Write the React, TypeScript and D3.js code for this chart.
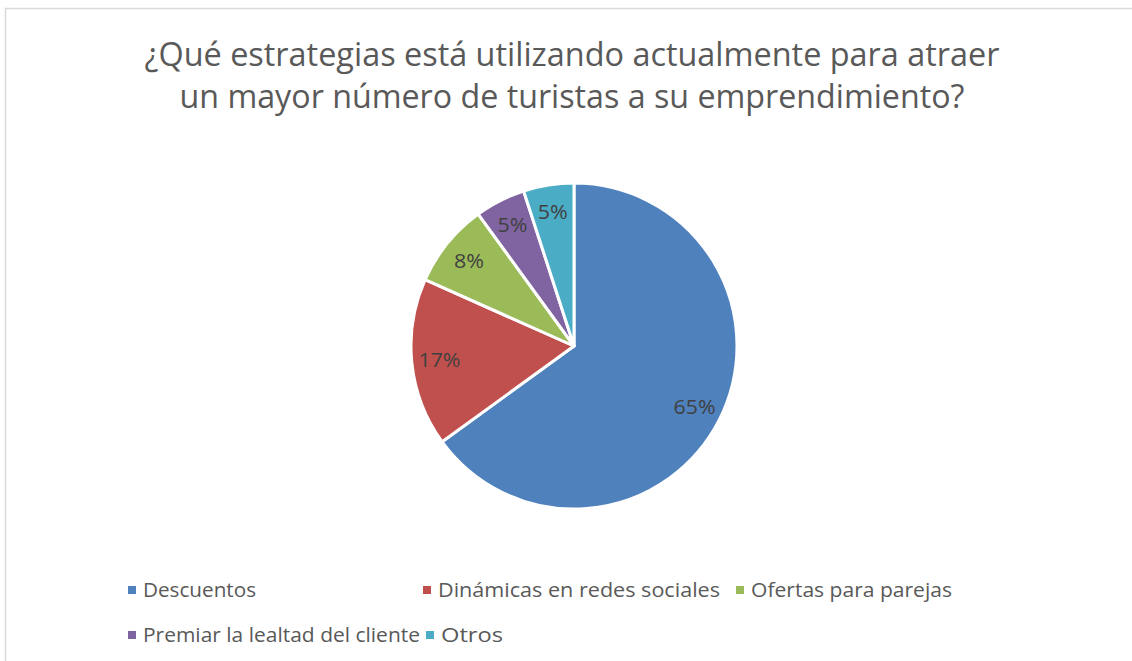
import React from "react";
import * as d3 from "d3";

const categories = [
  "Descuentos",
  "Dinámicas en redes sociales",
  "Ofertas para parejas",
  "Premiar la lealtad del cliente",
  "Otros",
];
const counts = [39, 10, 5, 3, 3];
const colors = ["#4F81BD", "#C0504D", "#9BBB59", "#8064A2", "#4BACC6"];
const titleLines = [
  "¿Qué estrategias está utilizando actualmente para atraer",
  "un mayor número de turistas a su emprendimiento?",
];

const W = 1132;
const H = 661;
const FONT = "'Open Sans', 'Noto Sans', sans-serif";

// legend layout (Excel flow legend, two rows)
const legendPos = [
  { x: 128, y: 590, w: 113 },
  { x: 423, y: 590, w: 282 },
  { x: 736, y: 590, w: 201 },
  { x: 128, y: 635, w: 277 },
  { x: 426, y: 635, w: 62 },
];

export default function App() {
  const cx = 574;
  const cy = 346;
  const r = 163;

  const total = d3.sum(counts);
  const pie = d3
    .pie<number>()
    .sort(null)
    .value((d) => d);
  const arcs = pie(counts);
  const arc = d3.arc<d3.PieArcDatum<number>>().innerRadius(0).outerRadius(r);
  const labelArc = d3
    .arc<d3.PieArcDatum<number>>()
    .innerRadius(r * 0.83)
    .outerRadius(r * 0.83);
  const fmt = (v: number) => `${Math.round((v / total) * 100)}%`;

  return (
    <div style={{ position: "fixed", left: 0, top: 0, background: "#fff" }}>
      <svg width={W} height={H} style={{ display: "block" }}>
        <rect x={0} y={0} width={W} height={H} fill="#fff" />
        {/* chart area border */}
        <path d={`M5.5,${H} V8.5 H${W}`} fill="none" stroke="#D9D9D9" strokeWidth={1.5} />

        {titleLines.map((t, i) => (
          <text
            key={i}
            x={W / 2 + 6}
            y={66 + i * 42}
            textAnchor="middle"
            fontFamily={FONT}
            fontSize={33}
            fill="#595959"
            textLength={i === 0 ? 855 : 785}
            lengthAdjust="spacingAndGlyphs"
          >
            {t}
          </text>
        ))}

        <g transform={`translate(${cx},${cy})`}>
          {arcs.map((a, i) => (
            <path
              key={i}
              d={arc(a) || ""}
              fill={colors[i]}
              stroke="#fff"
              strokeWidth={3}
              strokeLinejoin="round"
            />
          ))}
          {arcs.map((a, i) => {
            const [lx, ly] = labelArc.centroid(a);
            return (
              <text
                key={i}
                x={lx}
                y={ly}
                dy="0.35em"
                textAnchor="middle"
                fontFamily={FONT}
                fontSize={20}
                fill="#404040"
                textLength={a.data >= 10 ? 42 : 30}
                lengthAdjust="spacingAndGlyphs"
              >
                {fmt(a.data)}
              </text>
            );
          })}
        </g>

        {categories.map((c, i) => (
          <g key={c} transform={`translate(${legendPos[i].x},${legendPos[i].y})`}>
            <rect x={0} y={-4} width={8} height={8} fill={colors[i]} />
            <text
              x={15}
              y={0}
              dy="0.35em"
              fontFamily={FONT}
              fontSize={20.5}
              fill="#595959"
              textLength={legendPos[i].w}
              lengthAdjust="spacingAndGlyphs"
            >
              {c}
            </text>
          </g>
        ))}
      </svg>
    </div>
  );
}
